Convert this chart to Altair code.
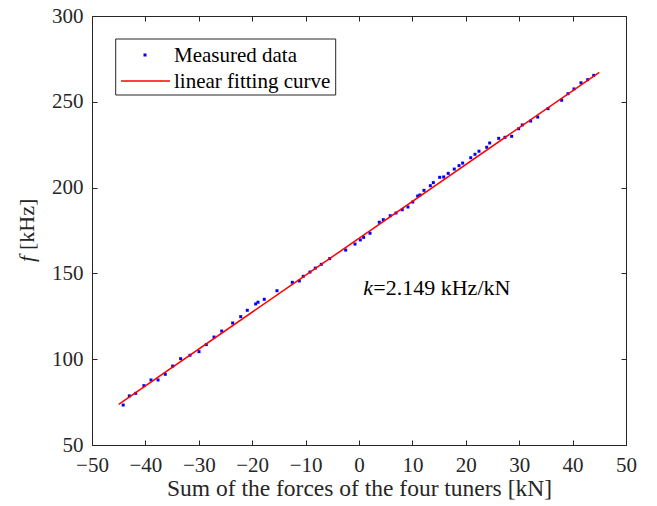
import altair as alt
import pandas as pd

force_kn = [-44.16, -43.01, -41.82, -40.27, -38.95, -37.64, -36.28, -34.89, -33.40, -31.65,
            -29.96, -28.60, -27.15, -25.71, -23.66, -22.15, -20.92, -19.35, -18.91, -17.74,
            -15.36, -12.49, -11.18, -10.44, -9.18, -8.18, -7.06, -5.49, -2.50, -0.75,
            0.24, 0.87, 2.06, 3.80, 4.55, 5.86, 6.93, 8.10, 9.17, 10.06,
            10.99, 11.42, 12.17, 13.36, 13.92, 15.11, 15.86, 16.71, 17.84, 18.73,
            19.41, 20.92, 21.72, 22.47, 23.92, 24.47, 26.16, 27.34, 28.59, 29.90,
            30.58, 32.14, 33.46, 35.39, 37.95, 39.14, 40.26, 41.57, 42.83, 43.96]
freq_khz = [73.3, 78.6, 80.1, 84.6, 87.9, 87.9, 91.2, 96.0, 100.3, 102.3,
            104.4, 108.5, 112.9, 116.4, 121.1, 124.8, 128.5, 132.2, 133.2, 134.9,
            139.9, 144.8, 145.6, 148.3, 150.8, 153.1, 155.3, 158.6, 163.6, 167.1,
            169.5, 171.0, 173.4, 179.8, 181.3, 183.6, 185.2, 187.1, 188.7, 191.6,
            195.1, 195.7, 198.4, 201.1, 202.9, 206.0, 206.2, 208.3, 210.8, 212.8,
            214.3, 217.4, 219.4, 221.2, 223.5, 226.0, 228.7, 229.3, 229.9, 234.3,
            236.5, 238.8, 241.1, 246.0, 250.9, 254.7, 257.5, 261.1, 262.9, 265.4]

# Fitted line end points
fit_x = [-45.0, 45.0]
fit_y = [73.7, 267.2]

x_ticks = [-50, -40, -30, -20, -10, 0, 10, 20, 30, 40, 50]
y_ticks = [50, 100, 150, 200, 250, 300]

legend_labels = ["Measured data", "linear fitting curve"]
annot_x = [0.81]
annot_y = [137.4]
annot_k = "k"
annot_rest = "=2.149 kHz/kN"
x_title = "Sum of the forces of the four tuners [kN]"
y_title_italic = "f"
y_title_rest = "[kHz]"

FONT = "Liberation Serif"
AX = "#262626"

pts = pd.DataFrame({"x": force_kn, "y": freq_khz})
fit = pd.DataFrame({"x": fit_x, "y": fit_y})
ann = pd.DataFrame({"x": annot_x, "y": annot_y})
one = pd.DataFrame({"a": [0]})

xs = alt.Scale(domain=[-50, 50], nice=False, zero=False)
ys = alt.Scale(domain=[50, 300], nice=False, zero=False)

common = dict(grid=False, domain=False, tickColor=AX, tickWidth=1, tickSize=5, offset=-5)

points = alt.Chart(pts).mark_square(size=9, color="#0000ff", opacity=1).encode(
    x=alt.X("x:Q", scale=xs, axis=alt.Axis(
        orient="bottom", values=x_ticks, labelFont=FONT, labelFontSize=21, labelColor=AX,
        labelPadding=9, labelFlush=False, labelOverlap=False, labelBound=False,
        title=x_title, titleFont=FONT, titleFontSize=23.5, titleFontWeight="normal",
        titleColor=AX, titlePadding=1, **common)),
    y=alt.Y("y:Q", scale=ys, axis=alt.Axis(
        orient="left", values=y_ticks, labelFont=FONT, labelFontSize=21, labelColor=AX,
        labelPadding=9, labelFlush=False, labelOverlap=False, labelBound=False,
        title=None, **common)),
)

line = alt.Chart(fit).mark_line(color="#ff0000", strokeWidth=1.5).encode(
    x=alt.X("x:Q", scale=xs, axis=alt.Axis(orient="top", values=x_ticks, labels=False,
                                            title=None, **common)),
    y=alt.Y("y:Q", scale=ys, axis=alt.Axis(orient="right", values=y_ticks, labels=False,
                                            title=None, **common)),
)

ann_k = alt.Chart(ann).mark_text(text=annot_k, font=FONT, fontSize=22, fontStyle="italic",
                                 align="left", baseline="alphabetic", color="black").encode(
    x=alt.X("x:Q", scale=xs, axis=None), y=alt.Y("y:Q", scale=ys, axis=None))
ann_rest = alt.Chart(ann).mark_text(text=annot_rest, font=FONT, fontSize=22, dx=10,
                                    align="left", baseline="alphabetic", color="black").encode(
    x=alt.X("x:Q", scale=xs, axis=None), y=alt.Y("y:Q", scale=ys, axis=None))

# y-axis title in two styles
yt1 = alt.Chart(one).mark_text(text=y_title_italic, font=FONT, fontSize=22, fontStyle="italic",
                               angle=270, align="left", baseline="middle", color=AX).encode(
    x=alt.value(-65), y=alt.value(246))
yt2 = alt.Chart(one).mark_text(text=y_title_rest, font=FONT, fontSize=22,
                               angle=270, align="left", baseline="middle", color=AX).encode(
    x=alt.value(-65), y=alt.value(234))

# legend
leg_box = alt.Chart(one).mark_rect(fill="white", stroke=AX, strokeWidth=1).encode(
    x=alt.value(23.7), x2=alt.value(243.7), y=alt.value(23), y2=alt.value(79))
leg_pt = alt.Chart(one).mark_square(size=9, color="#0000ff", opacity=1).encode(
    x=alt.value(53), y=alt.value(39))
leg_ln = alt.Chart(one).mark_rule(color="#ff0000", strokeWidth=1.5).encode(
    x=alt.value(29), x2=alt.value(78), y=alt.value(65))
leg_t1 = alt.Chart(one).mark_text(text=legend_labels[0], font=FONT, fontSize=21, align="left",
                                  baseline="alphabetic", color="black").encode(
    x=alt.value(82), y=alt.value(46))
leg_t2 = alt.Chart(one).mark_text(text=legend_labels[1], font=FONT, fontSize=21, align="left",
                                  baseline="alphabetic", color="black").encode(
    x=alt.value(82), y=alt.value(72))

chart = alt.layer(points, line, ann_k, ann_rest, yt1, yt2,
                  leg_box, leg_pt, leg_ln, leg_t1, leg_t2).resolve_axis(
    x="independent", y="independent"
).properties(
    width=534, height=429,
    autosize=alt.AutoSizeParams(type="none"),
    padding={"left": 84, "top": 8, "right": 23, "bottom": 60},
    background="white",
).configure_view(stroke=AX, strokeWidth=1)

chart.save("out.html", embed_options={"renderer": "svg", "actions": False})
